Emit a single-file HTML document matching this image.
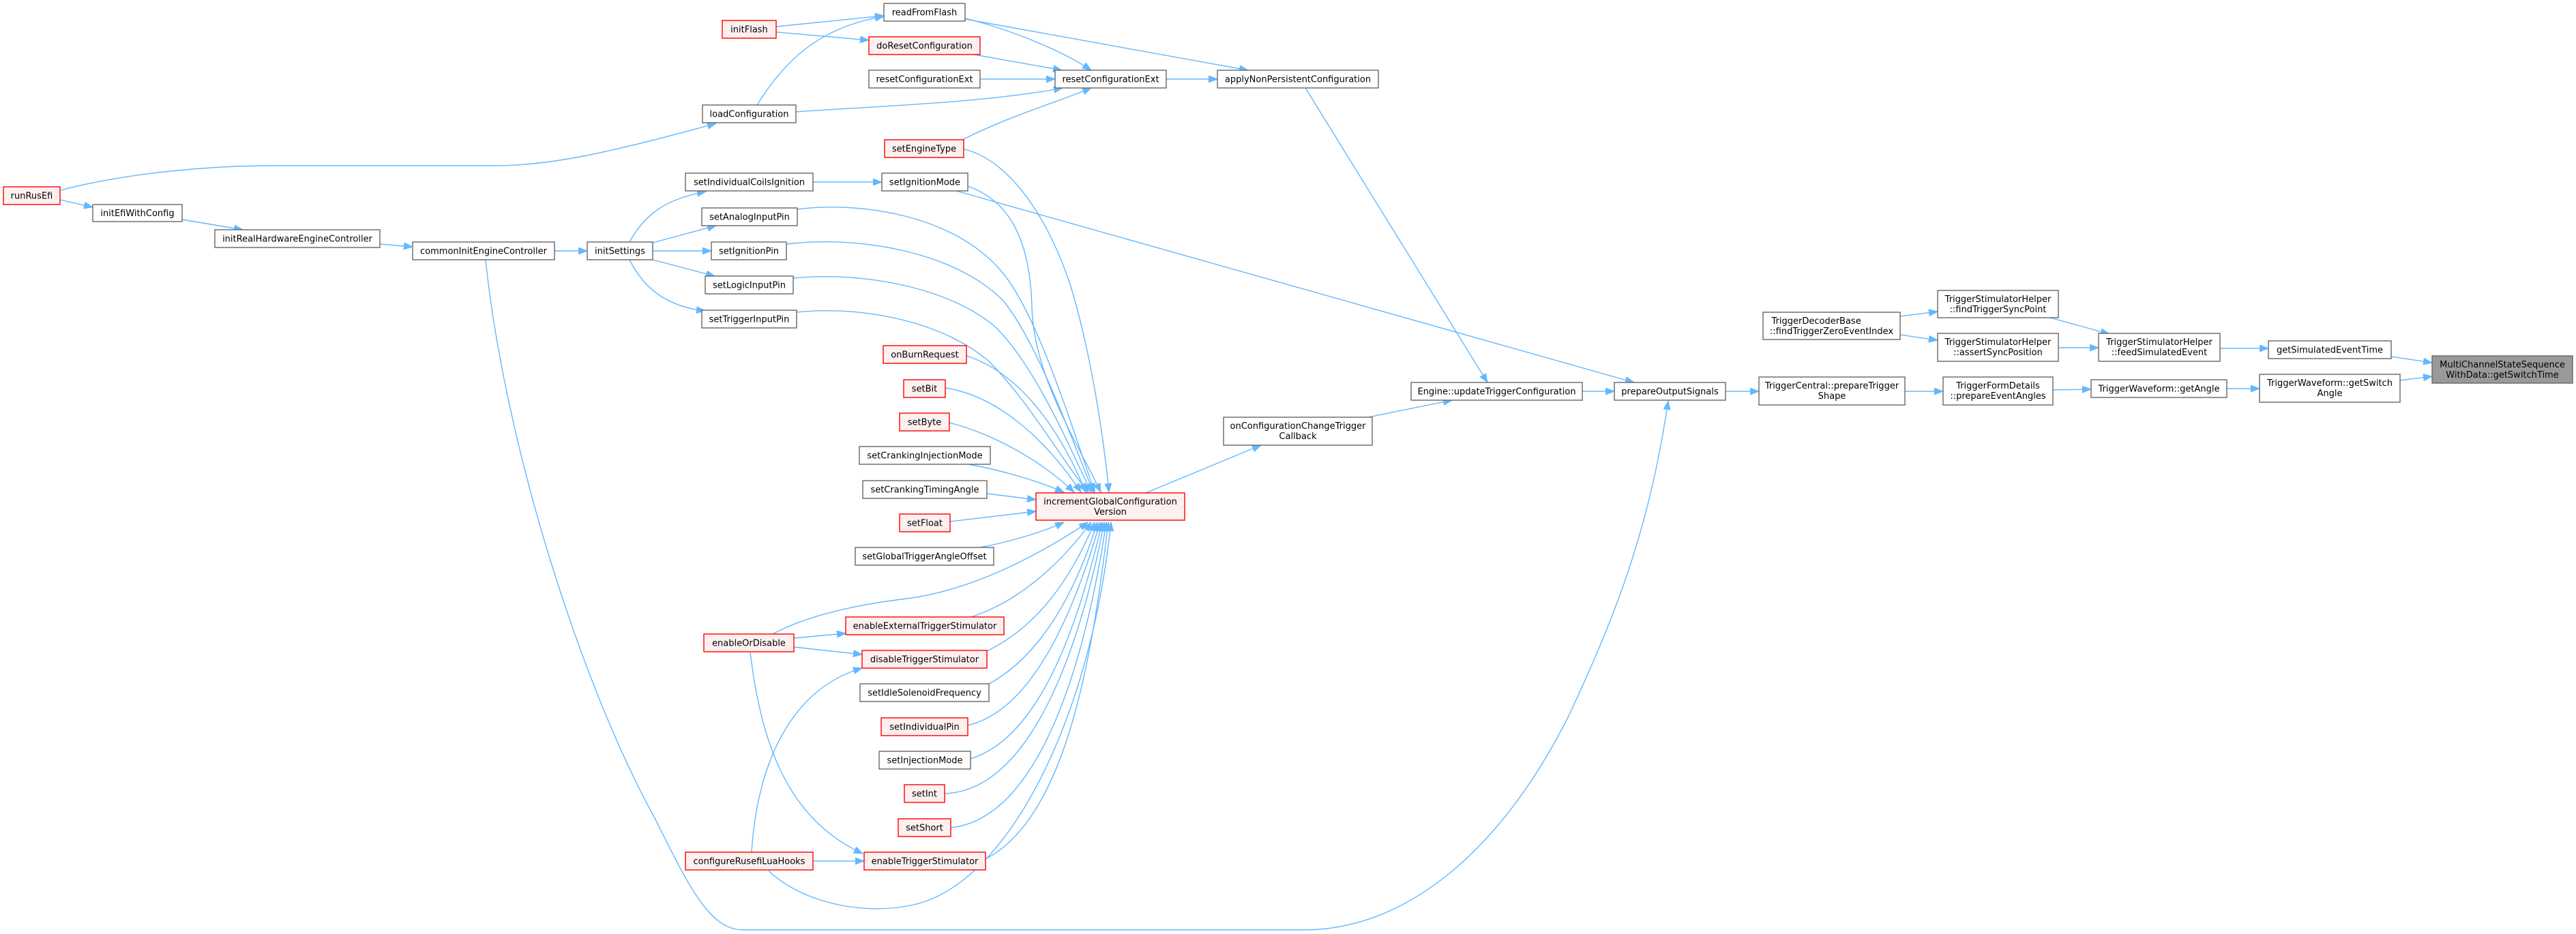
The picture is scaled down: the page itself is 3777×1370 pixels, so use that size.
<!DOCTYPE html>
<html><head><meta charset="utf-8"><style>
html,body{margin:0;padding:0;background:#fff;}
svg{display:block;}
text{font-family:"DejaVu Sans","Liberation Sans",sans-serif;font-size:13px;fill:#000;text-anchor:middle;}
.e{fill:none;stroke:#63b8ff;stroke-width:1.4;marker-end:url(#ah);}
.n{fill:#fff;stroke:#666;stroke-width:1.4;}
.r{fill:#fff0f0;stroke:#ff0000;stroke-width:1.4;}
.g{fill:#999;stroke:#666;stroke-width:1.4;}
</style></head><body>
<svg width="3777" height="1370" viewBox="0 0 3777 1370" xmlns="http://www.w3.org/2000/svg">
<defs>
<marker id="ah" markerUnits="userSpaceOnUse" markerWidth="14" markerHeight="11" refX="13" refY="5" orient="auto">
<path d="M0,0 L13,5 L0,10 z" fill="#63b8ff" stroke="#63b8ff" stroke-width="1"/>
</marker>
</defs>

<!-- edges -->
<path class="e" d="M88,293 L136,304"/>
<path class="e" d="M89,279 C180,255 300,243 400,243 L726,243 C800,243 880,228 1050,181"/>
<path class="e" d="M267,322 L356,337"/>
<path class="e" d="M557,358 L605,362"/>
<path class="e" d="M813,368 L861,368"/>
<path class="e" d="M712,381 C740,650 850,1000 960,1200 C1010,1300 1040,1364 1090,1364 L1912,1364 C2060,1364 2200,1250 2300,1050 C2380,880 2420,760 2446,588"/>
<path class="e" d="M923,355 C945,315 975,292 1035,281"/>
<path class="e" d="M957,356 L1050,331"/>
<path class="e" d="M957,368 L1043,368"/>
<path class="e" d="M957,381 L1048,405"/>
<path class="e" d="M923,381 C945,425 980,450 1034,456"/>
<path class="e" d="M1192,267 L1293,267"/>
<path class="e" d="M1402,280 L2396,561"/>
<path class="e" d="M1419,273 C1480,295 1510,350 1513,450 C1515,550 1580,650 1614,722"/>
<path class="e" d="M1411,205 C1480,170 1550,150 1600,129"/>
<path class="e" d="M1414,219 C1470,232 1530,300 1570,420 C1600,520 1618,640 1626,722"/>
<path class="e" d="M1169,307 C1260,295 1400,315 1470,400 C1520,460 1570,620 1605,722"/>
<path class="e" d="M1153,358 C1260,345 1400,370 1470,440 C1520,500 1570,640 1603,722"/>
<path class="e" d="M1163,408 C1260,398 1390,420 1460,480 C1520,540 1570,660 1600,722"/>
<path class="e" d="M1168,458 C1260,448 1380,470 1450,530 C1510,590 1560,680 1596,722"/>
<path class="e" d="M1417,522 C1490,545 1550,620 1592,722"/>
<path class="e" d="M1386,569 C1460,580 1530,640 1585,722"/>
<path class="e" d="M1392,620 C1450,635 1520,670 1575,722"/>
<path class="e" d="M1420,681 C1470,690 1520,705 1560,722"/>
<path class="e" d="M1447,724 L1519,733"/>
<path class="e" d="M1393,765 L1519,750"/>
<path class="e" d="M1437,803 C1480,795 1530,780 1560,766"/>
<path class="e" d="M1133,930 C1170,910 1230,890 1330,878 C1430,865 1530,810 1595,766"/>
<path class="e" d="M1424,905 C1500,880 1560,820 1600,766"/>
<path class="e" d="M1447,955 C1520,920 1570,850 1605,766"/>
<path class="e" d="M1450,1003 C1530,960 1580,860 1609,766"/>
<path class="e" d="M1419,1064 C1520,1040 1580,880 1613,766"/>
<path class="e" d="M1423,1113 C1530,1080 1585,900 1616,766"/>
<path class="e" d="M1385,1164 C1520,1160 1590,920 1619,766"/>
<path class="e" d="M1394,1214 C1530,1200 1595,950 1622,766"/>
<path class="e" d="M1445,1260 C1560,1200 1600,980 1625,766"/>
<path class="e" d="M1127,1277 C1170,1320 1260,1345 1340,1327 C1480,1295 1600,1050 1629,766"/>
<path class="e" d="M1164,936 L1240,929"/>
<path class="e" d="M1164,949 L1264,960"/>
<path class="e" d="M1100,957 C1115,1080 1150,1200 1265,1252"/>
<path class="e" d="M1102,1250 C1110,1120 1160,1010 1264,980"/>
<path class="e" d="M1192,1263 L1267,1263"/>
<path class="e" d="M1138,39 L1296,23"/>
<path class="e" d="M1138,47 L1274,59"/>
<path class="e" d="M1110,154 C1150,90 1200,40 1296,24"/>
<path class="e" d="M1167,164 C1300,155 1450,150 1558,129"/>
<path class="e" d="M1415,27 C1470,40 1550,70 1600,103"/>
<path class="e" d="M1415,28 L1830,103"/>
<path class="e" d="M1428,80 L1557,103"/>
<path class="e" d="M1437,116 L1547,116"/>
<path class="e" d="M1710,116 L1785,116"/>
<path class="e" d="M1914,129 L2181,561"/>
<path class="e" d="M1680,723 L1849,653"/>
<path class="e" d="M2006,612 L2129,587"/>
<path class="e" d="M2320,574 L2367,574"/>
<path class="e" d="M2530,574 L2579,574"/>
<path class="e" d="M2793,574 L2849,574"/>
<path class="e" d="M3010,572 L3066,571"/>
<path class="e" d="M3265,570 L3313,570"/>
<path class="e" d="M3519,558 L3566,552"/>
<path class="e" d="M3506,523 L3566,532"/>
<path class="e" d="M3255,511 L3326,511"/>
<path class="e" d="M3006,466 L3093,490"/>
<path class="e" d="M3018,510 L3077,510"/>
<path class="e" d="M2786,464 L2841,457"/>
<path class="e" d="M2786,491 L2841,499"/>

<!-- nodes -->
<rect class="r" x="5" y="274" width="83" height="26"/><text x="46.5" y="291.5">runRusEfi</text>
<rect class="n" x="136" y="300" width="131" height="25"/><text x="201.5" y="317">initEfiWithConfig</text>
<rect class="n" x="315" y="337" width="242" height="26"/><text x="436" y="354.5">initRealHardwareEngineController</text>
<rect class="n" x="605" y="355" width="208" height="26"/><text x="709" y="372.5">commonInitEngineController</text>
<rect class="n" x="861" y="355" width="96" height="26"/><text x="909" y="372.5">initSettings</text>
<rect class="r" x="1059" y="30" width="79" height="26"/><text x="1098.5" y="47.5">initFlash</text>
<rect class="n" x="1030" y="154" width="137" height="26"/><text x="1098.5" y="171.5">loadConfiguration</text>
<rect class="n" x="1005" y="254" width="187" height="26"/><text x="1098.5" y="271.5">setIndividualCoilsIgnition</text>
<rect class="n" x="1029" y="305" width="140" height="26"/><text x="1099" y="322.5">setAnalogInputPin</text>
<rect class="n" x="1043" y="355" width="110" height="26"/><text x="1098" y="372.5">setIgnitionPin</text>
<rect class="n" x="1034" y="405" width="129" height="26"/><text x="1098.5" y="422.5">setLogicInputPin</text>
<rect class="n" x="1029" y="455" width="139" height="26"/><text x="1098.5" y="472.5">setTriggerInputPin</text>
<rect class="r" x="1032" y="930" width="132" height="26"/><text x="1098" y="947.5">enableOrDisable</text>
<rect class="r" x="1005" y="1250" width="187" height="26"/><text x="1098.5" y="1267.5">configureRusefiLuaHooks</text>
<rect class="n" x="1296" y="5" width="119" height="26"/><text x="1355.5" y="22.5">readFromFlash</text>
<rect class="r" x="1274" y="54" width="163" height="26"/><text x="1355.5" y="71.5">doResetConfiguration</text>
<rect class="n" x="1274" y="103" width="163" height="26"/><text x="1355.5" y="120.5">resetConfigurationExt</text>
<rect class="r" x="1297" y="205" width="116" height="26"/><text x="1355" y="222.5">setEngineType</text>
<rect class="n" x="1293" y="254" width="126" height="26"/><text x="1356" y="271.5">setIgnitionMode</text>
<rect class="r" x="1295" y="507" width="122" height="26"/><text x="1356" y="524.5">onBurnRequest</text>
<rect class="r" x="1325" y="557" width="61" height="26"/><text x="1355.5" y="574.5">setBit</text>
<rect class="r" x="1319" y="606" width="73" height="26"/><text x="1355.5" y="623.5">setByte</text>
<rect class="n" x="1260" y="655" width="192" height="26"/><text x="1356" y="672.5">setCrankingInjectionMode</text>
<rect class="n" x="1265" y="705" width="182" height="26"/><text x="1356" y="722.5">setCrankingTimingAngle</text>
<rect class="r" x="1319" y="754" width="74" height="26"/><text x="1356" y="771.5">setFloat</text>
<rect class="n" x="1254" y="803" width="203" height="26"/><text x="1355.5" y="820.5">setGlobalTriggerAngleOffset</text>
<rect class="r" x="1240" y="905" width="232" height="26"/><text x="1356" y="922.5">enableExternalTriggerStimulator</text>
<rect class="r" x="1264" y="954" width="183" height="26"/><text x="1355.5" y="971.5">disableTriggerStimulator</text>
<rect class="n" x="1261" y="1003" width="189" height="26"/><text x="1355.5" y="1020.5">setIdleSolenoidFrequency</text>
<rect class="r" x="1292" y="1053" width="127" height="26"/><text x="1355.5" y="1070.5">setIndividualPin</text>
<rect class="n" x="1289" y="1102" width="134" height="26"/><text x="1356" y="1119.5">setInjectionMode</text>
<rect class="r" x="1326" y="1151" width="59" height="26"/><text x="1355.5" y="1168.5">setInt</text>
<rect class="r" x="1317" y="1201" width="77" height="26"/><text x="1355.5" y="1218.5">setShort</text>
<rect class="r" x="1267" y="1250" width="178" height="26"/><text x="1356" y="1267.5">enableTriggerStimulator</text>
<rect class="n" x="1547" y="103" width="163" height="26"/><text x="1628.5" y="120.5">resetConfigurationExt</text>
<rect class="r" x="1519" y="723" width="218" height="40"/><text x="1628" y="740">incrementGlobalConfiguration</text><text x="1628" y="755">Version</text>
<rect class="n" x="1785" y="103" width="236" height="26"/><text x="1903" y="120.5">applyNonPersistentConfiguration</text>
<rect class="n" x="1794" y="612" width="218" height="41"/><text x="1903" y="629">onConfigurationChangeTrigger</text><text x="1903" y="644">Callback</text>
<rect class="n" x="2069" y="561" width="251" height="26"/><text x="2194.5" y="578.5">Engine::updateTriggerConfiguration</text>
<rect class="n" x="2367" y="561" width="163" height="26"/><text x="2448.5" y="578.5">prepareOutputSignals</text>
<rect class="n" x="2579" y="553" width="214" height="41"/><text x="2686" y="570">TriggerCentral::prepareTrigger</text><text x="2686" y="585">Shape</text>
<rect class="n" x="2585" y="458" width="201" height="40"/><text x="2685.5" y="475" style="text-anchor:start" dx="-88">TriggerDecoderBase</text><text x="2685.5" y="490">::findTriggerZeroEventIndex</text>
<rect class="n" x="2841" y="426" width="177" height="40"/><text x="2929.5" y="443">TriggerStimulatorHelper</text><text x="2929.5" y="458">::findTriggerSyncPoint</text>
<rect class="n" x="2841" y="489" width="177" height="41"/><text x="2929.5" y="506">TriggerStimulatorHelper</text><text x="2929.5" y="521">::assertSyncPosition</text>
<rect class="n" x="2849" y="553" width="161" height="41"/><text x="2929.5" y="570">TriggerFormDetails</text><text x="2929.5" y="585">::prepareEventAngles</text>
<rect class="n" x="3077" y="489" width="178" height="41"/><text x="3166" y="506">TriggerStimulatorHelper</text><text x="3166" y="521">::feedSimulatedEvent</text>
<rect class="n" x="3066" y="557" width="199" height="26"/><text x="3165.5" y="574.5">TriggerWaveform::getAngle</text>
<rect class="n" x="3326" y="500" width="180" height="26"/><text x="3416" y="517.5">getSimulatedEventTime</text>
<rect class="n" x="3313" y="549" width="206" height="41"/><text x="3416" y="566">TriggerWaveform::getSwitch</text><text x="3416" y="581">Angle</text>
<rect class="g" x="3566" y="522" width="206" height="40"/><text x="3669" y="539">MultiChannelStateSequence</text><text x="3669" y="554">WithData::getSwitchTime</text>
</svg>
</body></html>
